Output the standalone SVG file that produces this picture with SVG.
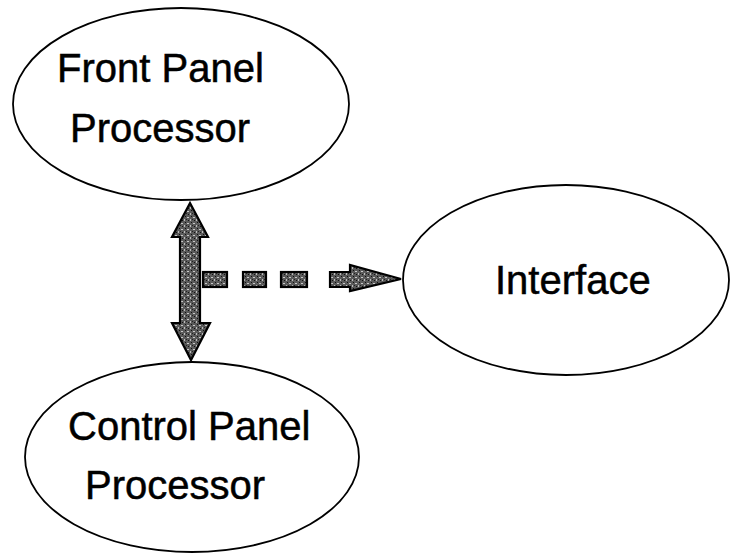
<svg xmlns="http://www.w3.org/2000/svg" width="741" height="553" viewBox="0 0 741 553">
<defs>
<pattern id="tex" width="6" height="6" patternUnits="userSpaceOnUse">
<rect width="6" height="6" fill="#5a5a5a"/>
<rect x="1" y="1" width="2" height="1" fill="#c8c8c8"/>
<rect x="4" y="3" width="1" height="2" fill="#bdbdbd"/>
<rect x="2" y="4" width="1" height="1" fill="#111"/>
<rect x="5" y="0" width="1" height="1" fill="#111"/>
<rect x="0" y="3" width="1" height="1" fill="#222"/>
</pattern>
<style>
.node ellipse{fill:#fff;stroke:#000;stroke-width:1.8}
.node text{font-family:"Liberation Sans",Arial,sans-serif;font-size:40px;fill:#000;stroke:#000;stroke-width:0.5}
.arr{fill:url(#tex);stroke:#000;stroke-width:2.2;stroke-linejoin:miter}
</style>
</defs>
<rect width="741" height="553" fill="#fff"/>
<g id="front-panel-processor" class="node">
<ellipse cx="181" cy="104" rx="168" ry="96"/>
<text x="57" y="82">Front Panel</text>
<text x="70" y="142">Processor</text>
</g>
<g id="control-panel-processor" class="node">
<ellipse cx="192" cy="457" rx="167" ry="95"/>
<text x="68" y="440">Control Panel</text>
<text x="85" y="499">Processor</text>
</g>
<g id="interface" class="node">
<ellipse cx="566" cy="280" rx="163" ry="95"/>
<text x="495" y="294">Interface</text>
</g>
<g id="connectors">
<polygon class="arr" points="190,203 208,237 200,237 200,323 210,323 191,360 172,323 180,323 180,237 172,237"/>
<rect class="arr" x="203" y="272" width="24" height="15"/>
<rect class="arr" x="243" y="272" width="23" height="15"/>
<rect class="arr" x="281" y="272" width="26" height="15"/>
<polygon class="arr" points="330,272 350,272 350,265 401,279 350,291 350,287 330,287"/>
</g>
</svg>
